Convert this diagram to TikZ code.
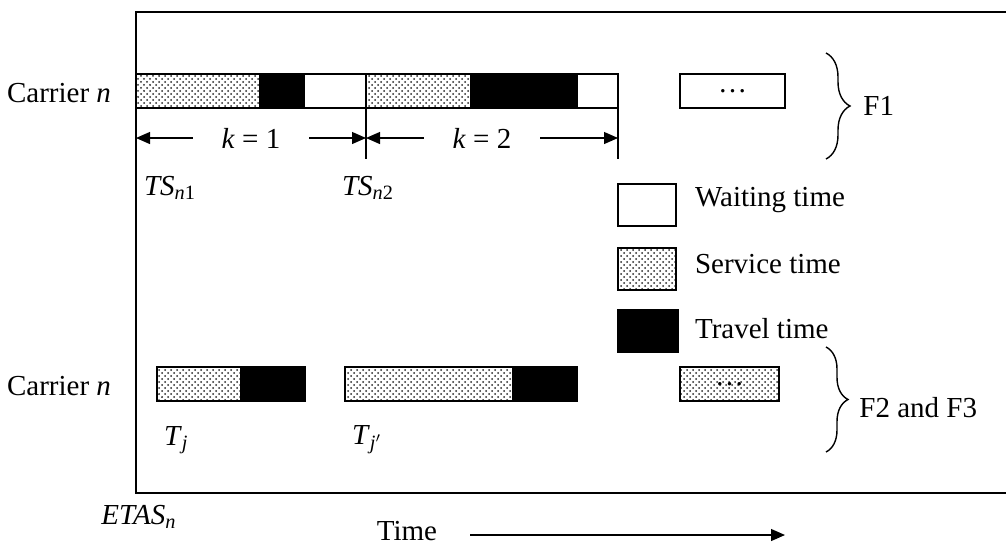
\documentclass[tikz,border=0pt]{standalone}
\usepackage{fontspec}
\setmainfont{Liberation Serif}
\usepackage{tikz}
\usetikzlibrary{positioning}
\usetikzlibrary{patterns}
\usetikzlibrary{arrows.meta}
\usetikzlibrary{decorations.pathreplacing}
\newlength\px
\setlength\px{0.5pt}

\begin{document}
\begin{tikzpicture}[x=0.5pt,y=-0.5pt,
    every node/.style={font=\fontsize{14.5}{17}\selectfont},
    seg/.style={draw,line width=0.8pt,anchor=west,inner sep=0pt,outer sep=0pt,minimum height=34\px},
    service/.style={seg,pattern=crosshatch dots,pattern color=black!85},
    travel/.style={seg,fill=black},
    waiting/.style={seg,fill=white},
    legendbox/.style={draw,line width=0.8pt,inner sep=0pt,minimum width=58\px,minimum height=42\px},
    dim/.style={line width=0.6pt,-{Triangle[length=7pt,width=6pt]}},
    tick/.style={line width=0.6pt}
]
\useasboundingbox (0,0) rectangle (1006,547);
\draw[line width=1pt] (1006,12) -- (136,12) -- (136,493) -- (1006,493);

% first row
\node[anchor=east] (car1) at (118,93) {Carrier \textit{n}};
\node[service,minimum width=124\px] (s1) at (136,91) {};
\node[travel,minimum width=44\px,right=0pt of s1] (t1) {};
\node[waiting,minimum width=62\px,right=0pt of t1] (w1) {};
\node[service,minimum width=105\px,right=0pt of w1] (s2) {};
\node[travel,minimum width=106\px,right=0pt of s2] (t2) {};
\node[waiting,minimum width=41\px,right=0pt of t2] (w2) {};
\node[waiting,minimum width=105\px] (more1) at (680,91) {…};

\coordinate (m2) at (366,159);
\coordinate (m3) at (618,159);
\draw[tick] (s2.south west) -- (m2);
\draw[tick] (w2.south east) -- (m3);

\node (k1) at (251,138) {\textit{k} = 1};
\draw[dim] ([xshift=-22\px]k1.west) -- (k1.west -| s1.west);
\draw[dim] ([xshift=22\px]k1.east) -- (k1.east -| s2.west);
\node (k2) at (482,138) {\textit{k} = 2};
\draw[dim] ([xshift=-22\px]k2.west) -- (k2.west -| s2.west);
\draw[dim] ([xshift=22\px]k2.east) -- (k2.east -| m3);

\node (ts1) at (170,188) {\textit{TS}\textsubscript{\textit{n}1}};
\node (ts2) at (368,188) {\textit{TS}\textsubscript{\textit{n}2}};

\draw[line width=0.7pt,decorate,decoration={brace,amplitude=12pt}] (826,53) -- (826,159)
    node[midway,right=15pt] (f1) {F1};

% legend
\node[legendbox,fill=white,anchor=north west] (lw) at (617,183) {};
\node[anchor=west] (lwt) at (688,200) {Waiting time};
\node[legendbox,pattern=crosshatch dots,pattern color=black!85,anchor=north west] (ls) at (617,247) {};
\node[anchor=west] (lst) at (688,264) {Service time};
\node[legendbox,fill=black,anchor=north west,minimum width=60\px] (lt) at (617,309) {};
\node[anchor=west] (ltt) at (688,329) {Travel time};

% second row
\node[anchor=east] (car2) at (118,386) {Carrier \textit{n}};
\node[service,minimum width=84\px] (b1) at (157,384) {};
\node[travel,minimum width=64\px,right=0pt of b1] (bt1) {};
\node[service,minimum width=168\px] (b2) at (345,384) {};
\node[travel,minimum width=64\px,right=0pt of b2] (bt2) {};
\node[service,minimum width=99\px] (more2) at (680,384) {…};

\node[anchor=west] (tj) at (157,440) {\textit{T}\textsubscript{\textit{j}}};
\node[anchor=west] (tjp) at (345,440) {\textit{T}\textsubscript{\textit{j}$'$}};

\draw[line width=0.7pt,decorate,decoration={brace,amplitude=11pt}] (826,347) -- (826,452)
    node[midway,right=13pt,yshift=-4pt] (f23) {F2 and F3};

% time axis
\node (etas) at (139,517) {\textit{ETAS}\textsubscript{\textit{n}}};
\node (time) at (407,531) {Time};
\coordinate (tstart) at (470,535);
\coordinate (tend) at (785,535);
\draw[dim] (tstart) -- (tend);
\end{tikzpicture}
\end{document}
